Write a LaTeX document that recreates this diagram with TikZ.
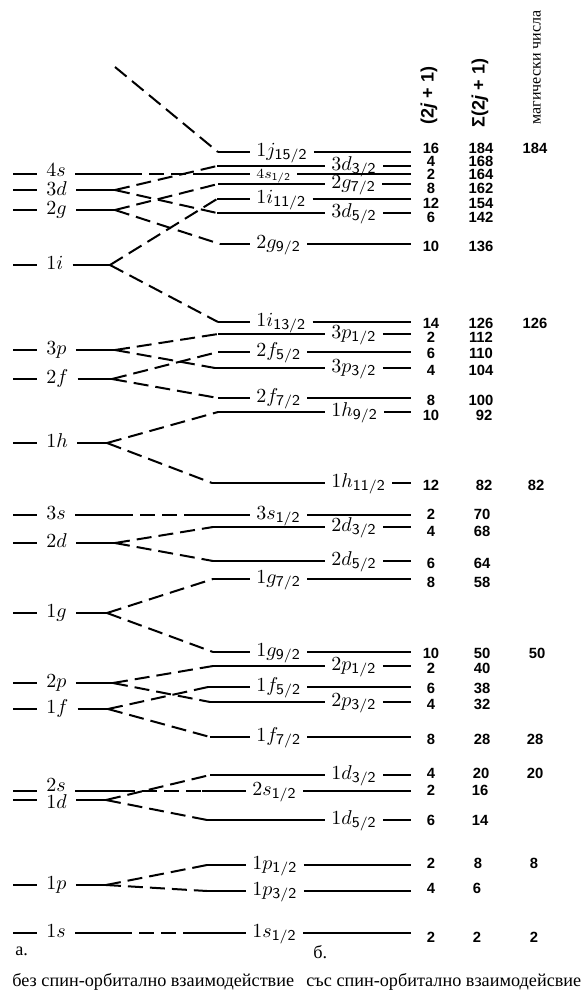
\documentclass[tikz,border=0pt]{standalone}
\usepackage{fontspec}
\newfontfamily\capfont{Liberation Serif}
\newfontfamily\numfont{Liberation Sans}
\DeclareMathSizes{10}{10}{7.5}{5}
\usepackage{tikz}
\tikzstyle{lvl} = [line width=1pt]
\tikzstyle{split} = [line width=1pt, dash pattern=on 7.5pt off 3.5pt]
\tikzstyle{shell} = [anchor=mid west, inner xsep=4.5pt, inner ysep=0pt, font=\fontsize{10}{12}\selectfont]
\tikzstyle{orbit} = [anchor=mid west, inner xsep=3pt, inner ysep=0pt, font=\fontsize{10}{12}\selectfont]
\tikzstyle{num} = [inner sep=0pt, font=\numfont\bfseries\fontsize{7.4}{9}\selectfont]
\tikzstyle{colhead} = [rotate=90, anchor=west, inner sep=0pt, font=\numfont\bfseries\fontsize{9}{11}\selectfont]
\tikzstyle{captxt} = [anchor=base west, inner sep=0pt, font=\capfont\fontsize{9.1}{11}\selectfont]

\begin{document}
\begin{tikzpicture}[x=0.5pt, y={(0pt,-0.5pt)}]
  \useasboundingbox (0,0) rectangle (584,992);
  \coordinate (lend) at (13,0);
  \coordinate (rend) at (411,0);

  % Заглавия на колоните
  \node[colhead] (hd) at (429,125) {(2\textit{j} + 1)};
  \node[colhead] (hs) at (480,128) {Σ(2\textit{j} + 1)};
  \node[colhead, font=\capfont\fontsize{8}{10}\selectfont] (hm) at (537,125) {магически числа};

  % Нива без спин-орбитално взаимодействие
  \node[shell] (a4s) at (37,172) {$4s$};
  \node[shell] (a3d) at (37,191) {$3d$};
  \node[shell] (a2g) at (37,210) {$2g$};
  \node[shell] (a1i) at (37,265) {$1i$};
  \node[shell] (a3p) at (37,350) {$3p$};
  \node[shell] (a2f) at (37,379) {$2f$};
  \node[shell] (a1h) at (37,443) {$1h$};
  \node[shell] (a3s) at (37,515) {$3s$};
  \node[shell] (a2d) at (37,543) {$2d$};
  \node[shell] (a1g) at (37,613) {$1g$};
  \node[shell] (a2p) at (37,683) {$2p$};
  \node[shell] (a1f) at (37,709) {$1f$};
  \node[shell] (a2s) at (37,787) {$2s$};
  \node[shell] (a1d) at (37,804) {$1d$};
  \node[shell] (a1p) at (37,885) {$1p$};
  \node[shell] (a1s) at (37,933) {$1s$};

  \coordinate (f4s) at (127,174);
  \coordinate (f3d) at (115,190);
  \coordinate (f2g) at (115,210);
  \coordinate (f1i) at (110,265);
  \coordinate (f3p) at (115,350);
  \coordinate (f2f) at (112,379);
  \coordinate (f1h) at (107,443);
  \coordinate (f3s) at (118,515);
  \coordinate (f2d) at (115,543);
  \coordinate (f1g) at (107,613);
  \coordinate (f2p) at (113,683);
  \coordinate (f1f) at (108,709);
  \coordinate (f2s) at (120,791);
  \coordinate (f1d) at (106,800);
  \coordinate (f1p) at (106,885);
  \coordinate (f1s) at (117,933);
  \coordinate (t1j) at (115,67);

  \draw[lvl] (lend |- f4s) -- (a4s.west |- f4s) (a4s.east |- f4s) -- (f4s);
  \draw[lvl] (lend |- f3d) -- (a3d.west |- f3d) (a3d.east |- f3d) -- (f3d);
  \draw[lvl] (lend |- f2g) -- (a2g.west |- f2g) (a2g.east |- f2g) -- (f2g);
  \draw[lvl] (lend |- f1i) -- (a1i.west |- f1i) (a1i.east |- f1i) -- (f1i);
  \draw[lvl] (lend |- f3p) -- (a3p.west |- f3p) (a3p.east |- f3p) -- (f3p);
  \draw[lvl] (lend |- f2f) -- (a2f.west |- f2f) (a2f.east |- f2f) -- (f2f);
  \draw[lvl] (lend |- f1h) -- (a1h.west |- f1h) (a1h.east |- f1h) -- (f1h);
  \draw[lvl] (lend |- f3s) -- (a3s.west |- f3s) (a3s.east |- f3s) -- (f3s);
  \draw[lvl] (lend |- f2d) -- (a2d.west |- f2d) (a2d.east |- f2d) -- (f2d);
  \draw[lvl] (lend |- f1g) -- (a1g.west |- f1g) (a1g.east |- f1g) -- (f1g);
  \draw[lvl] (lend |- f2p) -- (a2p.west |- f2p) (a2p.east |- f2p) -- (f2p);
  \draw[lvl] (lend |- f1f) -- (a1f.west |- f1f) (a1f.east |- f1f) -- (f1f);
  \draw[lvl] (lend |- f2s) -- (a2s.west |- f2s) (a2s.east |- f2s) -- (f2s);
  \draw[lvl] (lend |- f1d) -- (a1d.west |- f1d) (a1d.east |- f1d) -- (f1d);
  \draw[lvl] (lend |- f1p) -- (a1p.west |- f1p) (a1p.east |- f1p) -- (f1p);
  \draw[lvl] (lend |- f1s) -- (a1s.west |- f1s) (a1s.east |- f1s) -- (f1s);

  % Нива със спин-орбитално взаимодействие
  \coordinate (k1j15) at (218,152);
  \coordinate (k3d3) at (217,166);
  \coordinate (k4s1) at (198,174);
  \coordinate (k2g7) at (218,184);
  \coordinate (k1i11) at (217,199);
  \coordinate (k3d5) at (217,213);
  \coordinate (k2g9) at (220,244);
  \coordinate (k1i13) at (218,322);
  \coordinate (k3p1) at (218,334);
  \coordinate (k2f5) at (218,352);
  \coordinate (k3p3) at (215,368);
  \coordinate (k2f7) at (218,398);
  \coordinate (k1h9) at (218,412);
  \coordinate (k1h11) at (212,483);
  \coordinate (k3s1) at (195,515);
  \coordinate (k2d3) at (213,527);
  \coordinate (k2d5) at (213,561);
  \coordinate (k1g7) at (213,579);
  \coordinate (k1g9) at (213,652);
  \coordinate (k2p1) at (213,666);
  \coordinate (k1f5) at (208,687);
  \coordinate (k2p3) at (210,702);
  \coordinate (k1f7) at (210,737);
  \coordinate (k1d3) at (210,775);
  \coordinate (k2s1) at (202,791);
  \coordinate (k1d5) at (207,820);
  \coordinate (k1p1) at (207,865);
  \coordinate (k1p3) at (207,891);
  \coordinate (k1s1) at (197,933);

  \node[orbit] (b1j15) at (250,152) {$1j_{\mathsf{15/2}}$};
  \node[orbit] (b3d3) at (325,166) {$3d_{\mathsf{3/2}}$};
  \node[orbit, font=\fontsize{7.5}{9}\selectfont] (b4s1) at (250,174) {$4s_{\mathsf{1/2}}$};
  \node[orbit] (b2g7) at (325,184) {$2g_{\mathsf{7/2}}$};
  \node[orbit] (b1i11) at (250,199) {$1i_{\mathsf{11/2}}$};
  \node[orbit] (b3d5) at (325,213) {$3d_{\mathsf{5/2}}$};
  \node[orbit] (b2g9) at (250,244) {$2g_{\mathsf{9/2}}$};
  \node[orbit] (b1i13) at (250,322) {$1i_{\mathsf{13/2}}$};
  \node[orbit] (b3p1) at (325,334) {$3p_{\mathsf{1/2}}$};
  \node[orbit] (b2f5) at (250,352) {$2f_{\mathsf{5/2}}$};
  \node[orbit] (b3p3) at (325,368) {$3p_{\mathsf{3/2}}$};
  \node[orbit] (b2f7) at (250,398) {$2f_{\mathsf{7/2}}$};
  \node[orbit] (b1h9) at (325,412) {$1h_{\mathsf{9/2}}$};
  \node[orbit] (b1h11) at (325,483) {$1h_{\mathsf{11/2}}$};
  \node[orbit] (b3s1) at (250,515) {$3s_{\mathsf{1/2}}$};
  \node[orbit] (b2d3) at (325,527) {$2d_{\mathsf{3/2}}$};
  \node[orbit] (b2d5) at (325,561) {$2d_{\mathsf{5/2}}$};
  \node[orbit] (b1g7) at (250,579) {$1g_{\mathsf{7/2}}$};
  \node[orbit] (b1g9) at (250,652) {$1g_{\mathsf{9/2}}$};
  \node[orbit] (b2p1) at (325,666) {$2p_{\mathsf{1/2}}$};
  \node[orbit] (b1f5) at (250,687) {$1f_{\mathsf{5/2}}$};
  \node[orbit] (b2p3) at (325,702) {$2p_{\mathsf{3/2}}$};
  \node[orbit] (b1f7) at (250,737) {$1f_{\mathsf{7/2}}$};
  \node[orbit] (b1d3) at (325,775) {$1d_{\mathsf{3/2}}$};
  \node[orbit] (b2s1) at (246,791) {$2s_{\mathsf{1/2}}$};
  \node[orbit] (b1d5) at (325,820) {$1d_{\mathsf{5/2}}$};
  \node[orbit] (b1p1) at (246,865) {$1p_{\mathsf{1/2}}$};
  \node[orbit] (b1p3) at (246,891) {$1p_{\mathsf{3/2}}$};
  \node[orbit] (b1s1) at (246,933) {$1s_{\mathsf{1/2}}$};

  \draw[lvl] (k1j15) -- (b1j15.west |- k1j15) (b1j15.east |- k1j15) -- (rend |- k1j15);
  \draw[lvl] (k3d3) -- (b3d3.west |- k3d3) (b3d3.east |- k3d3) -- (rend |- k3d3);
  \draw[lvl] (k4s1) -- (b4s1.west |- k4s1) (b4s1.east |- k4s1) -- (rend |- k4s1);
  \draw[lvl] (k2g7) -- (b2g7.west |- k2g7) (b2g7.east |- k2g7) -- (rend |- k2g7);
  \draw[lvl] (k1i11) -- (b1i11.west |- k1i11) (b1i11.east |- k1i11) -- (rend |- k1i11);
  \draw[lvl] (k3d5) -- (b3d5.west |- k3d5) (b3d5.east |- k3d5) -- (rend |- k3d5);
  \draw[lvl] (k2g9) -- (b2g9.west |- k2g9) (b2g9.east |- k2g9) -- (rend |- k2g9);
  \draw[lvl] (k1i13) -- (b1i13.west |- k1i13) (b1i13.east |- k1i13) -- (rend |- k1i13);
  \draw[lvl] (k3p1) -- (b3p1.west |- k3p1) (b3p1.east |- k3p1) -- (rend |- k3p1);
  \draw[lvl] (k2f5) -- (b2f5.west |- k2f5) (b2f5.east |- k2f5) -- (rend |- k2f5);
  \draw[lvl] (k3p3) -- (b3p3.west |- k3p3) (b3p3.east |- k3p3) -- (rend |- k3p3);
  \draw[lvl] (k2f7) -- (b2f7.west |- k2f7) (b2f7.east |- k2f7) -- (rend |- k2f7);
  \draw[lvl] (k1h9) -- (b1h9.west |- k1h9) (b1h9.east |- k1h9) -- (rend |- k1h9);
  \draw[lvl] (k1h11) -- (b1h11.west |- k1h11) (b1h11.east |- k1h11) -- (rend |- k1h11);
  \draw[lvl] (k3s1) -- (b3s1.west |- k3s1) (b3s1.east |- k3s1) -- (rend |- k3s1);
  \draw[lvl] (k2d3) -- (b2d3.west |- k2d3) (b2d3.east |- k2d3) -- (rend |- k2d3);
  \draw[lvl] (k2d5) -- (b2d5.west |- k2d5) (b2d5.east |- k2d5) -- (rend |- k2d5);
  \draw[lvl] (k1g7) -- (b1g7.west |- k1g7) (b1g7.east |- k1g7) -- (rend |- k1g7);
  \draw[lvl] (k1g9) -- (b1g9.west |- k1g9) (b1g9.east |- k1g9) -- (rend |- k1g9);
  \draw[lvl] (k2p1) -- (b2p1.west |- k2p1) (b2p1.east |- k2p1) -- (rend |- k2p1);
  \draw[lvl] (k1f5) -- (b1f5.west |- k1f5) (b1f5.east |- k1f5) -- (rend |- k1f5);
  \draw[lvl] (k2p3) -- (b2p3.west |- k2p3) (b2p3.east |- k2p3) -- (rend |- k2p3);
  \draw[lvl] (k1f7) -- (b1f7.west |- k1f7) (b1f7.east |- k1f7) -- (rend |- k1f7);
  \draw[lvl] (k1d3) -- (b1d3.west |- k1d3) (b1d3.east |- k1d3) -- (rend |- k1d3);
  \draw[lvl] (k2s1) -- (b2s1.west |- k2s1) (b2s1.east |- k2s1) -- (rend |- k2s1);
  \draw[lvl] (k1d5) -- (b1d5.west |- k1d5) (b1d5.east |- k1d5) -- (rend |- k1d5);
  \draw[lvl] (k1p1) -- (b1p1.west |- k1p1) (b1p1.east |- k1p1) -- (rend |- k1p1);
  \draw[lvl] (k1p3) -- (b1p3.west |- k1p3) (b1p3.east |- k1p3) -- (rend |- k1p3);
  \draw[lvl] (k1s1) -- (b1s1.west |- k1s1) (b1s1.east |- k1s1) -- (rend |- k1s1);

  % Разцепване (прекъснати линии)
  \draw[split] (t1j) -- (k1j15);
  \draw[split] (f4s) -- (k4s1);
  \draw[split] (f3d) -- (k3d3);
  \draw[split] (f3d) -- (k3d5);
  \draw[split] (f2g) -- (k2g7);
  \draw[split] (f2g) -- (k2g9);
  \draw[split] (f1i) -- (k1i11);
  \draw[split] (f1i) -- (k1i13);
  \draw[split] (f3p) -- (k3p1);
  \draw[split] (f3p) -- (k3p3);
  \draw[split] (f2f) -- (k2f5);
  \draw[split] (f2f) -- (k2f7);
  \draw[split] (f1h) -- (k1h9);
  \draw[split] (f1h) -- (k1h11);
  \draw[split] (f3s) -- (k3s1);
  \draw[split] (f2d) -- (k2d3);
  \draw[split] (f2d) -- (k2d5);
  \draw[split] (f1g) -- (k1g7);
  \draw[split] (f1g) -- (k1g9);
  \draw[split] (f2p) -- (k2p1);
  \draw[split] (f2p) -- (k2p3);
  \draw[split] (f1f) -- (k1f5);
  \draw[split] (f1f) -- (k1f7);
  \draw[split] (f2s) -- (k2s1);
  \draw[split] (f1d) -- (k1d3);
  \draw[split] (f1d) -- (k1d5);
  \draw[split] (f1p) -- (k1p1);
  \draw[split] (f1p) -- (k1p3);
  \draw[split] (f1s) -- (k1s1);

  % Числа: (2j+1), сума, магически числа
  \node[num] (d1j15) at (431,148) {16}; \node[num] (s1j15) at (481,148) {184}; \node[num] (m1j15) at (535,148) {184};
  \node[num] (d3d3) at (431,161) {4};   \node[num] (s3d3) at (481,161) {168};
  \node[num] (d4s1) at (431,174) {2};   \node[num] (s4s1) at (481,174) {164};
  \node[num] (d2g7) at (431,188) {8};   \node[num] (s2g7) at (481,188) {162};
  \node[num] (d1i11) at (431,203) {12}; \node[num] (s1i11) at (481,203) {154};
  \node[num] (d3d5) at (431,217) {6};   \node[num] (s3d5) at (481,217) {142};
  \node[num] (d2g9) at (431,246) {10};  \node[num] (s2g9) at (481,246) {136};
  \node[num] (d1i13) at (431,323) {14}; \node[num] (s1i13) at (481,323) {126}; \node[num] (m1i13) at (535,323) {126};
  \node[num] (d3p1) at (431,337) {2};   \node[num] (s3p1) at (481,337) {112};
  \node[num] (d2f5) at (431,353) {6};   \node[num] (s2f5) at (481,353) {110};
  \node[num] (d3p3) at (431,370) {4};   \node[num] (s3p3) at (481,370) {104};
  \node[num] (d2f7) at (431,400) {8};   \node[num] (s2f7) at (481,400) {100};
  \node[num] (d1h9) at (431,415) {10};  \node[num] (s1h9) at (484,415) {92};
  \node[num] (d1h11) at (431,485) {12}; \node[num] (s1h11) at (484,485) {82}; \node[num] (m1h11) at (536,485) {82};
  \node[num] (d3s1) at (431,514) {2};   \node[num] (s3s1) at (482,514) {70};
  \node[num] (d2d3) at (431,531) {4};   \node[num] (s2d3) at (482,531) {68};
  \node[num] (d2d5) at (431,563) {6};   \node[num] (s2d5) at (482,563) {64};
  \node[num] (d1g7) at (431,582) {8};   \node[num] (s1g7) at (482,582) {58};
  \node[num] (d1g9) at (431,653) {10};  \node[num] (s1g9) at (482,653) {50}; \node[num] (m1g9) at (537,653) {50};
  \node[num] (d2p1) at (431,668) {2};   \node[num] (s2p1) at (482,668) {40};
  \node[num] (d1f5) at (431,688) {6};   \node[num] (s1f5) at (482,688) {38};
  \node[num] (d2p3) at (431,704) {4};   \node[num] (s2p3) at (482,704) {32};
  \node[num] (d1f7) at (431,739) {8};   \node[num] (s1f7) at (482,739) {28}; \node[num] (m1f7) at (535,739) {28};
  \node[num] (d1d3) at (431,773) {4};   \node[num] (s1d3) at (481,773) {20}; \node[num] (m1d3) at (535,773) {20};
  \node[num] (d2s1) at (431,790) {2};   \node[num] (s2s1) at (480,790) {16};
  \node[num] (d1d5) at (431,820) {6};   \node[num] (s1d5) at (480,820) {14};
  \node[num] (d1p1) at (431,863) {2};   \node[num] (s1p1) at (478,863) {8}; \node[num] (m1p1) at (534,863) {8};
  \node[num] (d1p3) at (431,888) {4};   \node[num] (s1p3) at (477,888) {6};
  \node[num] (d1s1) at (431,937) {2};   \node[num] (s1s1) at (477,937) {2}; \node[num] (m1s1) at (534,937) {2};

  % Надписи
  \node[captxt] (capa) at (15,955) {а.};
  \node[captxt] (capb) at (313,958) {б.};
  \node[captxt] (texta) at (12,986) {без спин-орбитално взаимодействие};
  \node[captxt] (textb) at (306,986) {със спин-орбитално взаимодейсвие};
\end{tikzpicture}
\end{document}
